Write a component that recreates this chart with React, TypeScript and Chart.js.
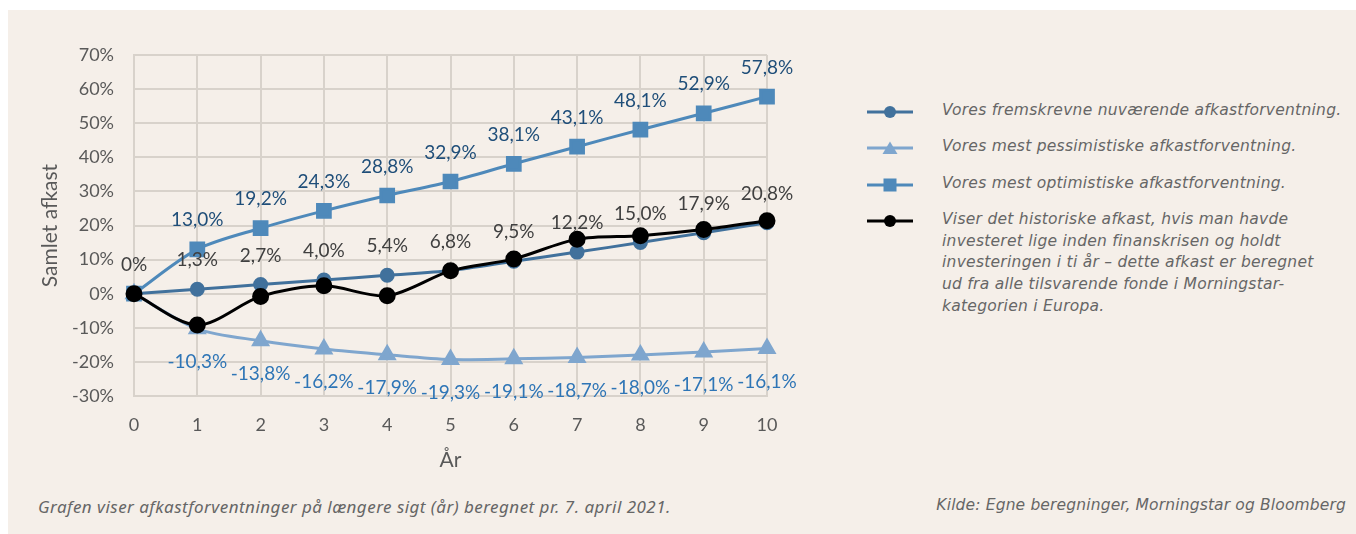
import React, { useEffect, useRef } from "react";
import { Chart, registerables } from "chart.js";

Chart.register(...registerables);

const years = ["0", "1", "2", "3", "4", "5", "6", "7", "8", "9", "10"];
const currentExp = [0, 1.3, 2.7, 4.0, 5.4, 6.8, 9.5, 12.2, 15.0, 17.9, 20.8];
const pessimisticExp = [0, -10.3, -13.8, -16.2, -17.9, -19.3, -19.1, -18.7, -18.0, -17.1, -16.1];
const optimisticExp = [0, 13.0, 19.2, 24.3, 28.8, 32.9, 38.1, 43.1, 48.1, 52.9, 57.8];
const historical = [0, -9.2, -0.8, 2.3, -0.6, 6.7, 10.2, 16.0, 17.0, 18.8, 21.4];
const yTicks = [-30, -20, -10, 0, 10, 20, 30, 40, 50, 60, 70];

const legendItems = [
  { text: "Vores fremskrevne nuværende afkastforventning.", color: "#41719C", marker: "circle" },
  { text: "Vores mest pessimistiske afkastforventning.", color: "#7FA6CE", marker: "triangle" },
  { text: "Vores mest optimistiske afkastforventning.", color: "#4E89BA", marker: "square" },
  {
    text: "Viser det historiske afkast, hvis man havde\ninvesteret lige inden finanskrisen og holdt\ninvesteringen i ti år – dette afkast er beregnet\nud fra alle tilsvarende fonde i Morningstar-\nkategorien i Europa.",
    color: "#000000",
    marker: "circle",
  },
];

const fmt = (v: number) => (v === 0 ? "0%" : v.toFixed(1).replace(".", ",") + "%");

const labelPlugin = {
  id: "valueLabels",
  afterDatasetsDraw(chart: any) {
    const ctx = chart.ctx;
    const cfg = [
      { idx: 1, color: "#404040", dy: -29, skipZero: false },
      { idx: 2, color: "#2E75B6", dy: 33, skipZero: true },
      { idx: 3, color: "#1F4E79", dy: -29, skipZero: true },
    ];
    ctx.save();
    ctx.font = "19px Lato";
    ctx.textAlign = "center";
    ctx.textBaseline = "middle";
    cfg.forEach((c) => {
      const meta = chart.getDatasetMeta(c.idx);
      const data = chart.data.datasets[c.idx].data as number[];
      meta.data.forEach((pt: any, i: number) => {
        if (c.skipZero && i === 0) return;
        ctx.fillStyle = c.color;
        ctx.fillText(fmt(data[i]), pt.x, pt.y + c.dy);
      });
    });
    ctx.restore();
  },
};

function Marker({ color, marker }: { color: string; marker: string }) {
  return (
    <svg width={48} height={14} style={{ display: "block" }}>
      <line x1={1} y1={7} x2={47} y2={7} stroke={color} strokeWidth={3} />
      {marker === "circle" && <circle cx={24} cy={7} r={6} fill={color} />}
      {marker === "square" && <rect x={17.5} y={0.5} width={13} height={13} fill={color} />}
      {marker === "triangle" && <polygon points="24,0.5 31.5,13 16.5,13" fill={color} />}
    </svg>
  );
}

export default function App() {
  const ref = useRef<HTMLCanvasElement | null>(null);

  useEffect(() => {
    if (!ref.current) return;
    const grid = "#D8D2CB";
    const chart = new Chart(ref.current, {
      type: "line",
      data: {
        labels: years,
        datasets: [
          {
            label: "Historisk",
            data: historical,
            borderColor: "#000000",
            backgroundColor: "#000000",
            borderWidth: 3,
            pointRadius: 7,
            pointStyle: "circle",
            tension: 0.3,
            order: 0,
          },
          {
            label: "Nuværende",
            data: currentExp,
            borderColor: "#41719C",
            backgroundColor: "#41719C",
            borderWidth: 3,
            pointRadius: 6,
            pointStyle: "circle",
            tension: 0.3,
            order: 1,
          },
          {
            label: "Pessimistisk",
            data: pessimisticExp,
            borderColor: "#7FA6CE",
            backgroundColor: "#7FA6CE",
            borderWidth: 3,
            pointRadius: 8,
            pointStyle: "triangle",
            tension: 0.3,
            order: 3,
          },
          {
            label: "Optimistisk",
            data: optimisticExp,
            borderColor: "#4E89BA",
            backgroundColor: "#4E89BA",
            borderWidth: 3,
            pointRadius: 9,
            pointStyle: "rect",
            tension: 0.3,
            order: 2,
          },
        ],
      },
      options: {
        animation: false,
        responsive: false,
        maintainAspectRatio: false,
        layout: { padding: { left: 0, right: 53, top: 45, bottom: 12 } },
        plugins: { legend: { display: false }, tooltip: { enabled: false } },
        scales: {
          x: {
            type: "category",
            offset: false,
            grid: { color: grid, lineWidth: 2, drawTicks: false },
            border: { color: grid, width: 2 },
            ticks: { color: "#595959", font: { family: "Lato", size: 18 }, padding: 18 },
            title: { display: true, text: "År", color: "#595959", font: { family: "Lato", size: 21 }, padding: { top: 0, bottom: 3 } },
            afterFit: (s: any) => {
              s.height = 80;
            },
          },
          y: {
            min: -30,
            max: 70,
            afterBuildTicks: (s: any) => {
              s.ticks = yTicks.map((v) => ({ value: v }));
            },
            grid: { color: grid, lineWidth: 2, drawTicks: false },
            border: { color: grid, width: 2 },
            ticks: {
              color: "#595959",
              font: { family: "Lato", size: 18 },
              padding: 20,
              callback: (v: any) => v + "%",
            },
            title: { display: true, text: "Samlet afkast", color: "#595959", font: { family: "Lato", size: 21 }, padding: { top: 30, bottom: 0 } },
            afterFit: (s: any) => {
              s.width = 126;
            },
          },
        },
      },
      plugins: [labelPlugin],
    });
    return () => chart.destroy();
  }, []);

  const legendFont = "italic 15.5px 'DejaVu Sans'";

  return (
    <div style={{ position: "fixed", left: 0, top: 0, width: 1356, height: 534, background: "#ffffff", overflow: "hidden" }}>
      <div style={{ position: "absolute", left: 8, top: 10, width: 1348, height: 524, background: "#F5EFE9" }}>
        <canvas ref={ref} width={812} height={478} style={{ position: "absolute", left: 0, top: 0, width: 812, height: 478 }} />
        {legendItems.map((it, i) => (
          <div
            key={i}
            style={{
              position: "absolute",
              left: 858,
              top: [90, 126, 163, 199][i],
              width: 490,
              display: "flex",
              alignItems: "flex-start",
            }}
          >
            <div style={{ marginTop: 5, width: 48 }}>
              <Marker color={it.color} marker={it.marker} />
            </div>
            <div
              style={{
                marginLeft: 28,
                font: legendFont,
                letterSpacing: "0.26px",
                color: "#666666",
                lineHeight: "21.7px",
                whiteSpace: "pre",
              }}
            >
              {it.text}
            </div>
          </div>
        ))}
        <div style={{ position: "absolute", left: 30, top: 485, font: "italic 17px 'Noto Sans'", letterSpacing: "0.47px", color: "#666666", whiteSpace: "nowrap" }}>
          Grafen viser afkastforventninger på længere sigt (år) beregnet pr. 7. april 2021.
        </div>
        <div style={{ position: "absolute", right: 10, top: 486, font: legendFont, letterSpacing: "0.15px", color: "#666666", whiteSpace: "nowrap" }}>
          Kilde: Egne beregninger, Morningstar og Bloomberg
        </div>
      </div>
    </div>
  );
}
